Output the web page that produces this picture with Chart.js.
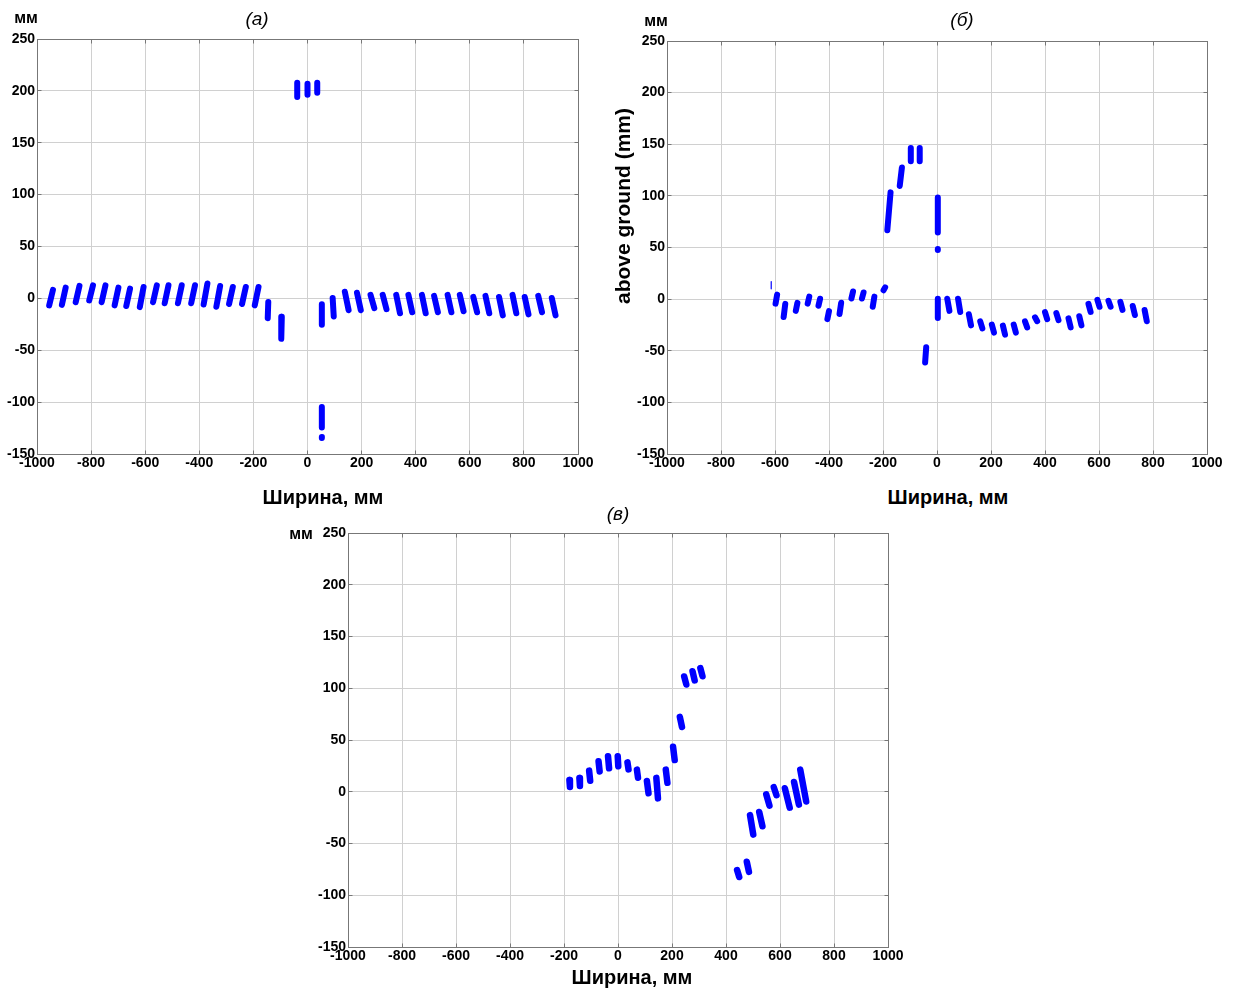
<!DOCTYPE html>
<html><head><meta charset="utf-8">
<script src="https://cdn.jsdelivr.net/npm/chart.js@4.4.1/dist/chart.umd.min.js"></script>
<style>
body{margin:0;background:#fff;width:1234px;height:990px;position:relative;overflow:hidden;font-family:"Liberation Sans",Arial,sans-serif}
.c{position:absolute}
.t{position:absolute;white-space:nowrap;transform:translate(-50%,-50%);color:#000;line-height:1}
.i{font-style:italic;font-size:19px}
.mm{font-weight:bold;font-size:16px}
.xt{font-weight:bold;font-size:20px}
.yl{font-weight:bold;font-size:21px;transform:translate(-50%,-50%) rotate(-90deg)}
</style></head><body>

<div class="c" style="left:0;top:0"><canvas id="ca" width="620" height="480"></canvas></div>
<div class="c" style="left:630px;top:0"><canvas id="cb" width="604" height="480"></canvas></div>
<div class="c" style="left:311px;top:520px"><canvas id="cc" width="620" height="470"></canvas></div>

<div class="t i" style="left:257px;top:18px">(а)</div>
<div class="t i" style="left:962px;top:19px">(б)</div>
<div class="t i" style="left:618px;top:513px">(в)</div>

<div class="t mm" style="left:26px;top:18px">мм</div>
<div class="t mm" style="left:656px;top:21px">мм</div>
<div class="t mm" style="left:301px;top:534px">мм</div>

<div class="t xt" style="left:323px;top:497px">Ширина, мм</div>
<div class="t xt" style="left:948px;top:497px">Ширина, мм</div>
<div class="t xt" style="left:632px;top:977px">Ширина, мм</div>

<div class="t yl" style="left:622px;top:206px">above ground (mm)</div>

<script>
// ---- axis ticks ----
const xTicks = [-1000,-800,-600,-400,-200,0,200,400,600,800,1000];
const yTicks = [-150,-100,-50,0,50,100,150,200,250];

// ---- chart (а): stripes, top end and bottom end of each ----
const aXTop = [-941,-894,-843,-793,-747,-699,-656,-606,-557,-514,-465,-416,-370,-323,-276,-228,-181,-145,-95,
               53,53,53.2, -38,0,36,
               93,138,183,233,278,328,373,423,468,518,563,613,658,708,758,803,853,903];
const aYTop = [8.2,10.4,12,12.6,12.6,10.4,9.4,11,12.6,12.6,12.6,12.6,14.3,12,11,11,11,-3.4,-17.8,
               -5.6,-104.6,-133.5, 207.8,206.8,207.8,
               0.4,6.4,5.4,3.4,3.4,3.4,3.4,3.4,2.4,3.4,3.4,1.4,2.4,1.4,3.4,1.4,2.4,0.4];
const aXBot = [-955,-908,-857,-807,-761,-713,-670,-620,-571,-528,-479,-430,-384,-337,-290,-242,-195,-147,-97,
               53,53,53, -38,0,36,
               97,152,197,247,292,342,387,437,482,532,577,627,672,722,772,817,867,917];
const aYBot = [-6.8,-6.3,-3.7,-2,-3.7,-6.8,-7.4,-8.4,-3.7,-4.7,-4.7,-4.7,-5.9,-8,-5.4,-5.4,-6.8,-19.1,-39,
               -25.4,-124.4,-134.5, 194.2,196.2,198.2,
               -17.4,-11.4,-11.4,-9.4,-10.4,-14.4,-13.4,-14.4,-13.4,-13.4,-12.4,-13.4,-14.4,-16.4,-14.4,-15.4,-13.4,-16.4];

// ---- chart (б) ----
const bXTop = [-592,-562,-517,-473,-433,-400,-355,-311,-272,-232,-192,-172,-130,-97,-64,-40,3,3,3,
               38,78,118,160,203,244,284,326,363,400,442,487,527,561,594,635,679,725,769];
const bYTop = [4.4,-4.6,-3.6,2.4,0.4,-11.6,-3.6,7.4,6.4,2.4,11.4,103.4,127.4,146.4,146.4,-46.6,98.4,48.5,0.4,
               0.4,0.4,-14.6,-21.6,-24.6,-25.6,-24.6,-21.6,-17.6,-12.6,-13.6,-18.6,-16.6,-4.6,-0.6,-1.6,-2.6,-6.6,-10.6];
const bXBot = [-598,-568,-523,-479,-439,-406,-361,-317,-278,-238,-198,-184,-138,-97,-64,-44,3,3,3,
               46,86,126,168,211,252,292,334,371,408,450,495,535,569,602,643,687,733,777];
const bYBot = [-4.4,-17.4,-11.4,-4.4,-6.4,-19.4,-14.4,0.6,0.6,-7.4,8.6,66.6,109.6,133.6,133.6,-61.4,64.6,47.5,-18.4,
               -11.4,-12.4,-25.4,-28.4,-32.4,-34.4,-32.4,-27.4,-21.4,-19.4,-20.4,-27.4,-25.4,-12.4,-7.4,-7.4,-10.4,-15.4,-21.4];
// faint remnant mark in (б)
const bMarkX = [-614,-614];
const bMarkY = [17,10];

// ---- chart (в) ----
const cXTop = [-180,-143,-107,-72,-37,-1,35,70,107,142,177,204,229,245,276,305,441,477,489,523,549,577,618,652,675];
const cYTop = [11.4,13.4,20.4,29.4,34.4,34.4,28.4,21.4,10.4,13.4,21.4,43.4,72.4,111.4,116.4,119.4,-75.6,-67.6,-22.6,-19.6,-2.6,4.4,3.4,9.4,21.4];
const cXBot = [-178,-141,-103,-68,-33,1,39,74,113,148,183,210,237,253,284,313,449,485,501,535,561,587,636,670,697];
const cYBot = [4.6,5.6,10.6,19.6,22.6,24.6,21.6,13.6,-1.4,-6.4,8.6,30.6,62.6,103.6,107.6,111.6,-82.4,-77.4,-41.4,-33.4,-13.4,-3.4,-15.4,-12.4,-9.4];

function stripeData(xt, yt, xb, yb) {
  const d = [];
  for (let i = 0; i < xt.length; i++) {
    d.push({x: xt[i], y: yt[i]}, {x: xb[i], y: yb[i]}, {x: xb[i], y: null});
  }
  return d;
}

const TICK_FONT = {family: '"Liberation Sans", Arial, sans-serif', size: 14, weight: 'bold'};
const GRID = '#d0d0d0';
const AXIS = '#777777';

const boxPlugin = {
  id: 'box',
  beforeDatasetsDraw(chart) {
    const {ctx, chartArea: a, scales} = chart;
    ctx.save();
    ctx.strokeStyle = AXIS;
    ctx.lineWidth = 1;
    const L = Math.floor(a.left) + 0.5, R = Math.floor(a.right) + 0.5;
    const T = Math.floor(a.top) + 0.5, B = Math.floor(a.bottom) + 0.5;
    ctx.strokeRect(L, T, R - L, B - T);
    ctx.beginPath();
    xTicks.forEach(v => {
      const p = Math.floor(scales.x.getPixelForValue(v)) + 0.5;
      ctx.moveTo(p, T); ctx.lineTo(p, T + 4);
      ctx.moveTo(p, B); ctx.lineTo(p, B - 4);
    });
    yTicks.forEach(v => {
      const p = Math.floor(scales.y.getPixelForValue(v)) + 0.5;
      ctx.moveTo(L, p); ctx.lineTo(L + 4, p);
      ctx.moveTo(R, p); ctx.lineTo(R - 4, p);
    });
    ctx.stroke();
    ctx.restore();
  }
};

function makeChart(id, datasets, padTop, padRight, xHeight) {
  new Chart(document.getElementById(id), {
    type: 'line',
    data: {datasets},
    options: {
      responsive: false,
      animation: false,
      events: [],
      layout: {padding: {top: padTop, right: padRight, left: 0, bottom: 0}},
      plugins: {legend: {display: false}, tooltip: {enabled: false}},
      elements: {point: {radius: 0}, line: {tension: 0}},
      scales: {
        x: {
          type: 'linear', min: -1000, max: 1000,
          afterBuildTicks: s => { s.ticks = xTicks.map(v => ({value: v})); },
          afterFit: s => { s.height = xHeight; },
          ticks: {font: TICK_FONT, color: '#000', padding: 1, autoSkip: false, maxRotation: 0,
                  callback: v => String(v)},
          grid: {color: GRID, drawTicks: false},
          border: {color: AXIS}
        },
        y: {
          type: 'linear', min: -150, max: 250,
          afterBuildTicks: s => { s.ticks = yTicks.map(v => ({value: v})); },
          afterFit: s => { s.width = 37; },
          ticks: {font: TICK_FONT, color: '#000', padding: 2, autoSkip: false,
                  callback: v => String(v)},
          grid: {color: GRID, drawTicks: false},
          border: {color: AXIS}
        }
      }
    },
    plugins: [boxPlugin]
  });
}

function stripeSet(data, w) {
  return {data, borderColor: '#0000ff', backgroundColor: '#0000ff', borderWidth: w,
          borderCapStyle: 'round', borderJoinStyle: 'round', spanGaps: false, pointRadius: 0};
}

makeChart('ca', [stripeSet(stripeData(aXTop, aYTop, aXBot, aYBot), 6)], 39, 42, 26);
makeChart('cb', [stripeSet(stripeData(bXTop, bYTop, bXBot, bYBot), 6),
                 stripeSet(bMarkX.map((x, i) => ({x, y: bMarkY[i]})), 1.2)], 41, 27, 26);
makeChart('cc', [stripeSet(stripeData(cXTop, cYTop, cXBot, cYBot), 6.5)], 13, 43, 43);
</script>
</body></html>
